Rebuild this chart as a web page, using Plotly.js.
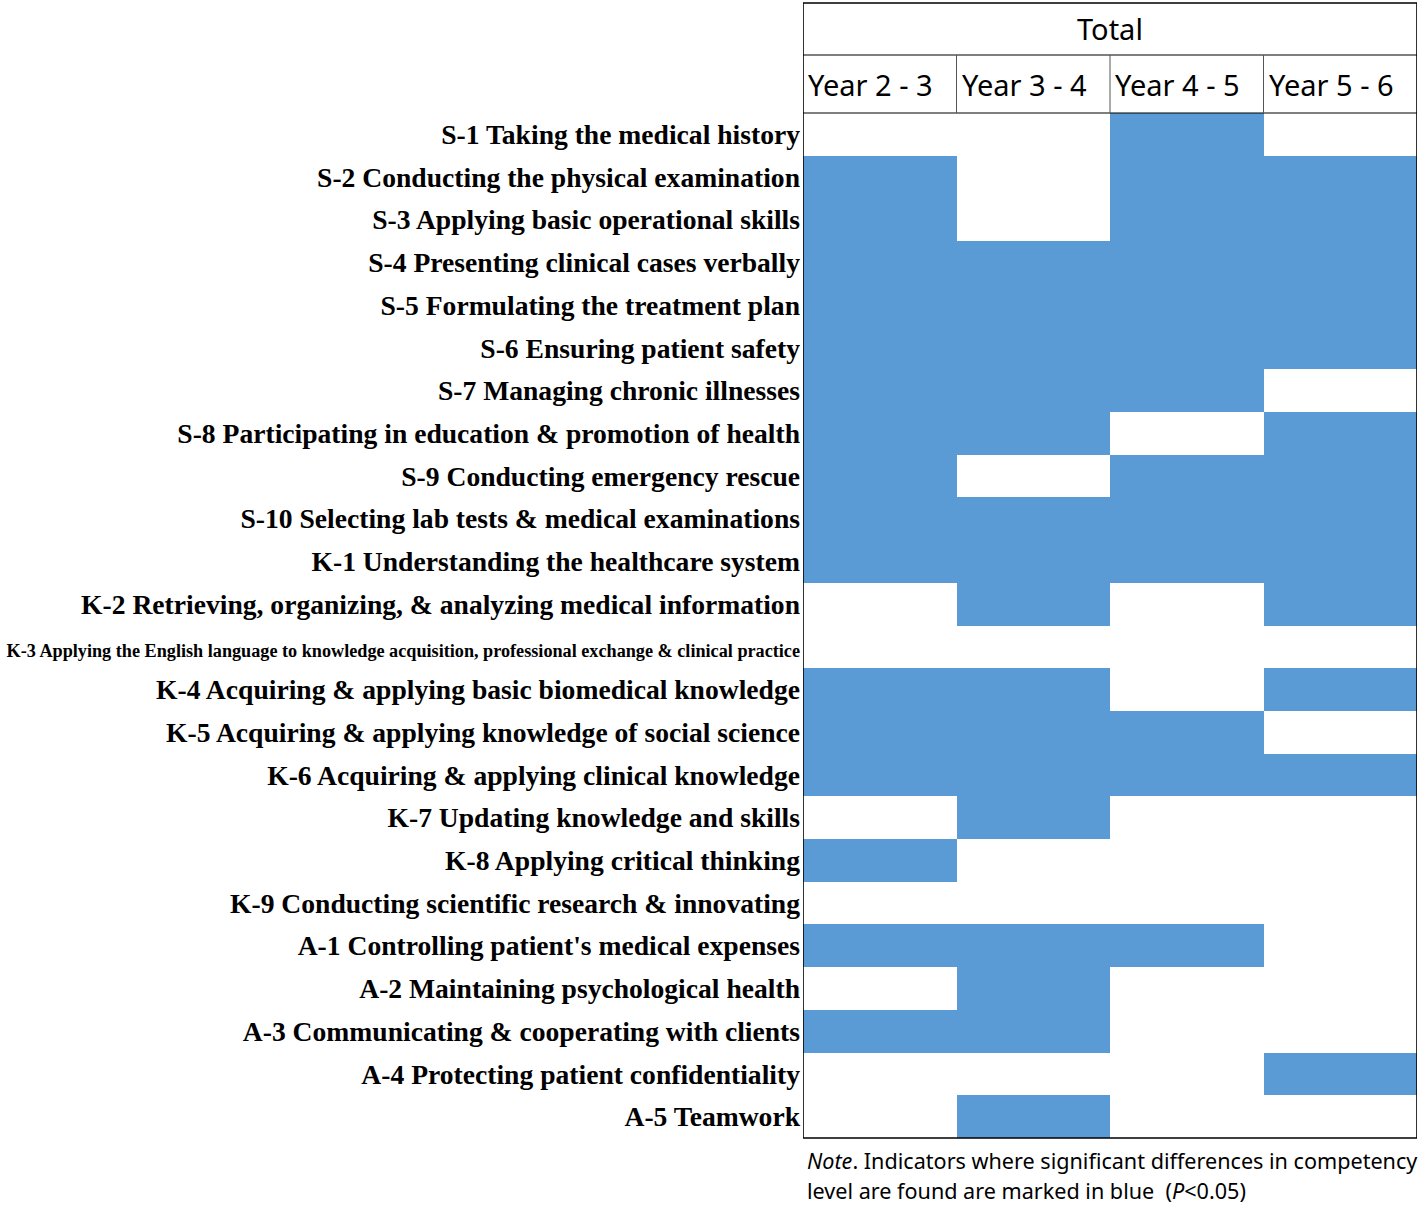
<!DOCTYPE html>
<html>
<head>
<meta charset="utf-8">
<script src="https://cdn.plot.ly/plotly-3.0.1.min.js"></script>
<style>html,body{margin:0;padding:0;background:#fff;}#chart{width:1424px;height:1206px;}</style>
</head>
<body>
<div id="chart"></div>
<script>
const groupTitle = "Total";
const periods = ["Year 2 - 3", "Year 3 - 4", "Year 4 - 5", "Year 5 - 6"];
const indicators = [
  "S-1 Taking the medical history",
  "S-2 Conducting the physical examination",
  "S-3 Applying basic operational skills",
  "S-4 Presenting clinical cases verbally",
  "S-5 Formulating the treatment plan",
  "S-6 Ensuring patient safety",
  "S-7 Managing chronic illnesses",
  "S-8 Participating in education & promotion of health",
  "S-9 Conducting emergency rescue",
  "S-10 Selecting lab tests & medical examinations",
  "K-1 Understanding the healthcare system",
  "K-2 Retrieving, organizing, & analyzing medical information",
  "K-3 Applying the English language to knowledge acquisition, professional exchange & clinical practice",
  "K-4 Acquiring & applying basic biomedical knowledge",
  "K-5 Acquiring & applying knowledge of social science",
  "K-6 Acquiring & applying clinical knowledge",
  "K-7 Updating knowledge and skills",
  "K-8 Applying critical thinking",
  "K-9 Conducting scientific research & innovating",
  "A-1 Controlling patient's medical expenses",
  "A-2 Maintaining psychological health",
  "A-3 Communicating & cooperating with clients",
  "A-4 Protecting patient confidentiality",
  "A-5 Teamwork"
];
// 1 = significant difference (blue), 0 = not significant
const year23 = [0,1,1,1,1,1,1,1,1,1,1,0,0,1,1,1,0,1,0,1,0,1,0,0];
const year34 = [0,0,0,1,1,1,1,1,0,1,1,1,0,1,1,1,1,0,0,1,1,1,0,1];
const year45 = [1,1,1,1,1,1,1,0,1,1,1,0,0,0,1,1,0,0,0,1,0,0,0,0];
const year56 = [0,1,1,1,1,1,0,1,1,1,1,1,0,1,0,1,0,0,0,0,0,0,1,0];
const noteLine1 = "<i>Note</i>. Indicators where significant differences in competency";
const noteLine2 = "level are found are marked in blue  (<i>P</i><0.05)";

const cols = [year23, year34, year45, year56];
const z = indicators.map((_, r) => cols.map(c => c[r]));
const xIdx = periods.map((_, i) => i);
const yIdx = indicators.map((_, i) => i);
const tickText = indicators.map(t => t.startsWith("K-3") ? '<span style="font-size:18.2px">' + t + '</span>' : t);

const W = 1424, H = 1206;
const mL = 803, mR = 7, mT = 113, mB = 68;
const plotH = H - mT - mB;
const pY = px => (H - mB - px) / plotH; // pixel y -> paper y
const yTotalTop = pY(3), yYearTop = pY(55);

const shapes = [];
shapes.push({type:'rect', xref:'x', yref:'paper', x0:-0.5, x1:3.5, y0:0, y1:yTotalTop, line:{color:'#000', width:1.6}});
shapes.push({type:'line', xref:'x', yref:'paper', x0:-0.5, x1:3.5, y0:yYearTop, y1:yYearTop, line:{color:'#000', width:1.2}});
shapes.push({type:'line', xref:'x', yref:'paper', x0:-0.5, x1:3.5, y0:1, y1:1, line:{color:'#000', width:1.2}});
for (let i = 0; i < periods.length - 1; i++) {
  shapes.push({type:'line', xref:'x', yref:'paper', x0:i+0.5, x1:i+0.5, y0:1, y1:yYearTop, line:{color:'#555', width:1}});
}

const sansFont = '"Noto Sans", "Open Sans", sans-serif';
const annotations = [];
annotations.push({xref:'x', yref:'paper', x:1.5, y:(yTotalTop + yYearTop)/2, text:groupTitle, showarrow:false,
  xanchor:'center', yanchor:'middle', font:{family:sansFont, size:29, color:'#000'}});
periods.forEach((p, i) => {
  annotations.push({xref:'x', yref:'paper', x:i-0.5, xshift:3, y:pY(85), text:p, showarrow:false,
    xanchor:'left', yanchor:'middle', font:{family:sansFont, size:29, color:'#000'}});
});
annotations.push({xref:'paper', yref:'paper', x:0, xshift:2, y:pY(1160), yanchor:'middle', xanchor:'left', align:'left',
  text: noteLine1, showarrow:false, font:{family:sansFont, size:21.6, color:'#000'}});
annotations.push({xref:'paper', yref:'paper', x:0, xshift:2, y:pY(1190), yanchor:'middle', xanchor:'left', align:'left',
  text: noteLine2, showarrow:false, font:{family:sansFont, size:21.6, color:'#000'}});

const trace = {
  type:'heatmap', x:xIdx, y:yIdx, z:z,
  zmin:0, zmax:1,
  colorscale:[[0,'#ffffff'],[1,'#5b9bd5']],
  showscale:false, hoverinfo:'skip', xgap:0, ygap:0
};

const layout = {
  width:W, height:H,
  margin:{l:mL, r:mR, t:mT, b:mB, pad:0},
  paper_bgcolor:'#fff', plot_bgcolor:'#fff',
  showlegend:false,
  xaxis:{range:[-0.5,3.5], showticklabels:false, showgrid:false, zeroline:false, ticks:'', fixedrange:true},
  yaxis:{range:[23.5,-0.5], tickvals:yIdx, ticktext:tickText, showgrid:false, zeroline:false, ticks:'', ticklen:0,
    ticklabelstandoff:2,
    tickfont:{family:'"Liberation Serif", "Times New Roman", serif', size:27.6, color:'#000', weight:'bold'}},
  shapes:shapes, annotations:annotations
};

Plotly.newPlot('chart', [trace], layout, {displayModeBar:false, staticPlot:true});
</script>
</body>
</html>
